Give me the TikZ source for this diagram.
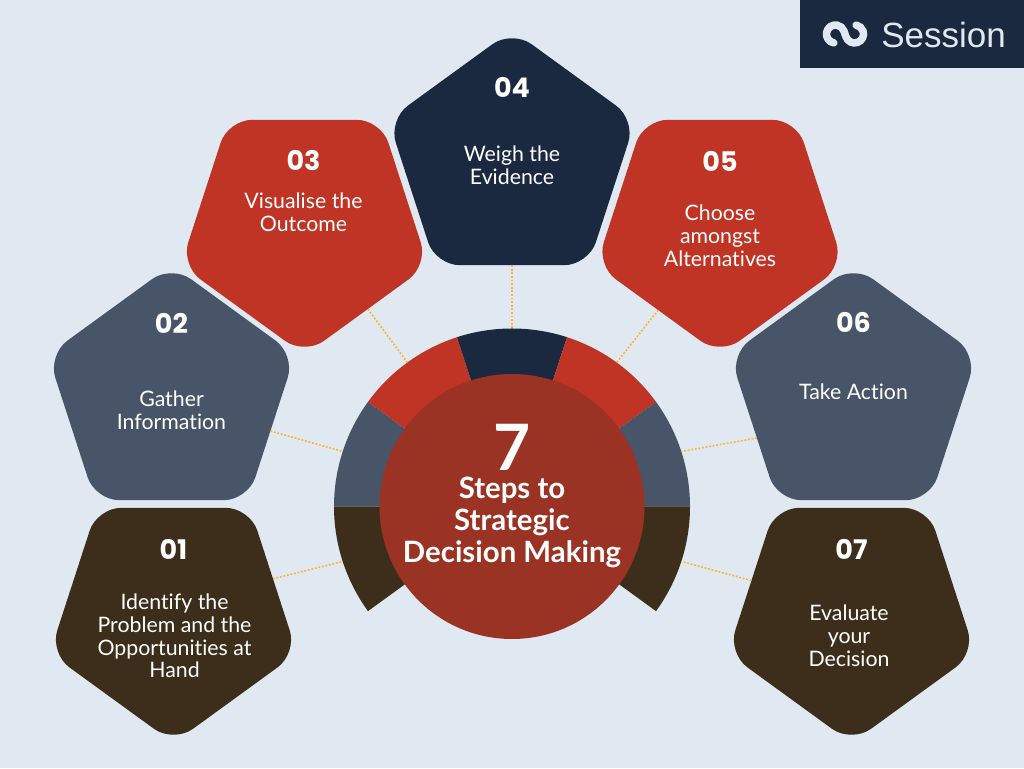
\documentclass[tikz,border=0pt]{standalone}
\usepackage{fontspec}
\setmainfont[Ligatures=NoCommon]{Lato}
\newfontfamily\logofont{Liberation Sans}
\newfontfamily\digitfont{Poppins}
\usepackage{xcolor}
\usetikzlibrary{shapes.geometric,calc}
\definecolor{paper}{HTML}{E0E8F1}
\definecolor{navy}{HTML}{1A2840}
\definecolor{brick}{HTML}{BF3424}
\definecolor{slate}{HTML}{485569}
\definecolor{umber}{HTML}{3D2E1B}
\definecolor{rust}{HTML}{9B3324}
\definecolor{amber}{HTML}{FDB32A}

\begin{document}
\begin{tikzpicture}[%
    x=1pt,y=1pt,
    penta/.style={%
      regular polygon,regular polygon sides=5,minimum size=260pt,inner sep=0pt,
      outer sep=0pt,rounded corners=24pt},
    pentaup/.style={penta},
    pentadown/.style={penta,shape border rotate=180},
    stepno/.style={text=white,font=\digitfont\fontsize{27}{30}\bfseries\selectfont},
    steptext/.style={text=white,align=center,font=\fontsize{21.3}{22.8}\selectfont},
    link/.style={amber,line width=1.6pt,dash pattern=on 1.8pt off 1.8pt}
  ]
    \fill[paper] (0,0) rectangle (1024,768);
    \fill[navy] (800,700) rectangle (1024,768);

    % logo
    \coordinate (c) at (512,261.5);
    \draw[paper,line width=7.5pt,line cap=round] (833.9,725.1)
      arc[start angle=260,end angle=19,radius=9pt] -- (846,731.1)
      arc[start angle=199,end angle=440,radius=9pt];
    \node[text=paper,font=\logofont\fontsize{35}{36}\selectfont] (logo) at (943.5,733) {Session};

    % ring
    \foreach \name/\from/\col in {01/180/umber,02/144/slate,03/108/brick,04/72/navy,
        05/36/brick,06/0/slate,07/-36/umber}{%
      \fill[\col] (c) -- ++(\from:178pt) arc[start angle=\from,delta angle=36,radius=178pt] -- cycle;
    }
    \foreach \name/\ang in {01/198,02/162,03/126,04/90,05/54,06/18,07/-18}{%
      \coordinate (r\name) at ($(c)+(\ang:178pt)$);
    }
    \node[circle,fill=rust,minimum size=265pt,inner sep=0pt] (hub) at (c) {};

    % steps
    \node[pentadown,fill=umber] (p01) at (173.5,155) {};
    \node[pentaup,fill=slate]   (p02) at (171.5,373) {};
    \node[pentadown,fill=brick] (p03) at (304.5,543) {};
    \node[pentaup,fill=navy]    (p04) at (512,608)   {};
    \node[pentadown,fill=brick] (p05) at (720,543)   {};
    \node[pentaup,fill=slate]   (p06) at (853.5,373) {};
    \node[pentadown,fill=umber] (p07) at (851.5,155) {};

    \draw[link] (p01.19)  -- (r01);
    \draw[link] (p02.-20) -- (r02);
    \draw[link] (p03.-53) -- (r03);
    \draw[link] (p04.south) -- (r04);
    \draw[link] (p05.-126) -- (r05);
    \draw[link] (p06.204) -- (r06);
    \draw[link] (p07.162) -- (r07);

    \node[stepno] (n01) at (173.5,219) {01};
    \node[stepno] (n02) at (171.5,445) {02};
    \node[stepno] (n03) at (303.5,607) {03};
    \node[stepno] (n04) at (512,681)   {04};
    \node[stepno] (n05) at (720,607)   {05};
    \node[stepno] (n06) at (853.5,445) {06};
    \node[stepno] (n07) at (851.5,219) {07};

    \node[steptext] (t01) at (174.5,132) {Identify the\\Problem and the\\Opportunities at\\Hand};
    \node[steptext] (t02) at (171.5,358) {Gather\\Information};
    \node[steptext] (t03) at (303.5,556) {Visualise the\\Outcome};
    \node[steptext] (t04) at (512,603)   {Weigh the\\Evidence};
    \node[steptext] (t05) at (720,532)   {Choose\\amongst\\Alternatives};
    \node[steptext] (t06) at (853.5,376) {Take Action};
    \node[steptext] (t07) at (849,132)   {Evaluate\\your\\Decision};

    % centre text
    \node[text=white,inner sep=0pt,font=\fontsize{64}{64}\bfseries\selectfont] (seven) at (512,321) {7};
    \node[text=white,inner sep=0pt,align=center,font=\fontsize{29.4}{32}\bfseries\selectfont] (title) at (512,246)
      {Steps to\\Strategic\\Decision Making};
  \end{tikzpicture}
\end{document}
